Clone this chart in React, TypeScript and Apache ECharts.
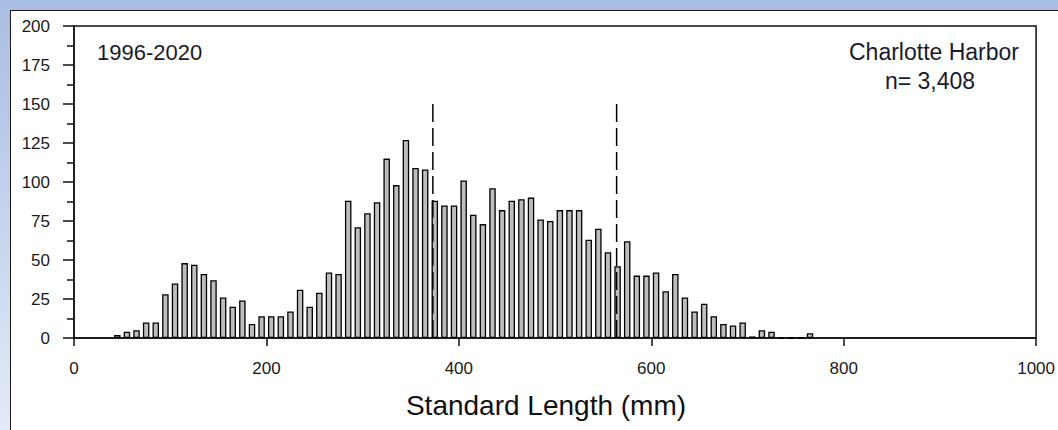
import React, { useEffect, useRef } from "react";
import * as echarts from "echarts";

const binStarts = [
  40, 50, 60, 70, 80, 90, 100, 110, 120, 130, 140, 150, 160, 170, 180, 190,
  200, 210, 220, 230, 240, 250, 260, 270, 280, 290, 300, 310, 320, 330, 340,
  350, 360, 370, 380, 390, 400, 410, 420, 430, 440, 450, 460, 470, 480, 490,
  500, 510, 520, 530, 540, 550, 560, 570, 580, 590, 600, 610, 620, 630, 640,
  650, 660, 670, 680, 690, 700, 710, 720, 730, 740, 750, 760,
];
const counts = [
  2, 4, 5, 10, 10, 28, 35, 48, 47, 41, 37, 26, 20, 24, 9, 14,
  14, 14, 17, 31, 20, 29, 42, 41, 88, 71, 80, 87, 115, 98, 127,
  109, 108, 88, 85, 85, 101, 79, 73, 96, 82, 88, 89, 90, 76, 75,
  82, 82, 82, 63, 70, 55, 46, 62, 40, 40, 42, 30, 41, 26, 17,
  22, 14, 9, 8, 10, 1, 5, 4, 0, 0, 0, 3,
];
const binWidth = 10;
const yTicks = [0, 25, 50, 75, 100, 125, 150, 175, 200];
const xTicks = [0, 200, 400, 600, 800, 1000];
const dashedAt = [373, 564];
const dashedTop = 150;
const periodLabel = "1996-2020";
const siteLabel = "Charlotte Harbor";
const nLabel = "n= 3,408";
const axisTitle = "Standard Length (mm)";

const FONT = "'Liberation Sans', Arial, sans-serif";

export default function App() {
  const ref = useRef<HTMLDivElement>(null);
  useEffect(() => {
    if (!ref.current) return;
    const chart = echarts.init(ref.current, undefined, { renderer: "svg", width: 1058, height: 430 });
    const barData = binStarts.map((b, i) => [b + binWidth / 2, counts[i]]);
    const dashSeries = dashedAt.map((x) => ({
      type: "line",
      data: [
        [x, 0],
        [x, dashedTop],
      ],
      symbol: "none",
      lineStyle: { color: "#000", width: 1.5, type: [18, 6] },
      z: 5,
      silent: true,
    }));
    chart.setOption({
      animation: false,
      grid: {
        left: 74,
        top: 26,
        width: 967,
        height: 312,
        show: true,
        borderColor: "#111",
        borderWidth: 1.5,
        backgroundColor: "transparent",
      },
      xAxis: {
        type: "value",
        min: xTicks[0],
        max: xTicks[xTicks.length - 1],
        interval: 200,
        axisLine: { show: true, onZero: false, lineStyle: { color: "#111", width: 1.5 } },
        axisTick: { show: true, length: 8, lineStyle: { color: "#111", width: 1.5 } },
        axisLabel: {
          color: "#1a1a1a",
          fontFamily: FONT,
          fontSize: 17,
          margin: 22,
          showMaxLabel: true,
          showMinLabel: true,
          formatter: (v: number) => String(v),
        },
        splitLine: { show: false },
      },
      yAxis: {
        type: "value",
        min: yTicks[0],
        max: yTicks[yTicks.length - 1],
        interval: 25,
        axisLine: { show: true, lineStyle: { color: "#111", width: 1.5 } },
        axisTick: { show: true, length: 11, lineStyle: { color: "#111", width: 1.5 } },
        minorTick: { show: true, splitNumber: 2, length: 7, lineStyle: { color: "#111", width: 1.5 } },
        axisLabel: { color: "#1a1a1a", fontFamily: FONT, fontSize: 17, margin: 24 },
        splitLine: { show: false },
      },
      series: [
        {
          type: "bar",
          data: barData,
          barWidth: 6.5,
          itemStyle: { color: "#bdbdbd", borderColor: "#000", borderWidth: 1.3 },
          z: 2,
        },
        ...dashSeries,
      ],
      graphic: [
        {
          type: "text",
          x: 97,
          y: 52,
          style: {
            text: periodLabel,
            font: `22px ${FONT}`,
            fill: "#1a1a2a",
            textAlign: "left",
            textVerticalAlign: "middle",
          },
        },
        {
          type: "text",
          x: 934,
          y: 52,
          style: {
            text: siteLabel,
            font: `23px ${FONT}`,
            fill: "#1a1a2a",
            textAlign: "center",
            textVerticalAlign: "middle",
          },
        },
        {
          type: "text",
          x: 930,
          y: 81,
          style: {
            text: nLabel,
            font: `23px ${FONT}`,
            fill: "#1a1a2a",
            textAlign: "center",
            textVerticalAlign: "middle",
          },
        },
        {
          type: "text",
          x: 546,
          y: 405,
          style: {
            text: axisTitle,
            font: `28px ${FONT}`,
            fill: "#111",
            textAlign: "center",
            textVerticalAlign: "middle",
          },
        },
      ],
    });
    return () => chart.dispose();
  }, []);

  return (
    <div
      style={{
        position: "fixed",
        left: 0,
        top: 0,
        width: 1058,
        height: 430,
        overflow: "hidden",
        background: "linear-gradient(to bottom, #a9bde2 0%, #c4d3ee 50%, #e4ebf7 100%)",
      }}
    >
      <div
        style={{
          position: "absolute",
          left: 10,
          top: 10,
          width: 1080,
          height: 460,
          background: "#fff",
          border: "1.5px solid #1a1a1a",
        }}
      />
      <div ref={ref} style={{ position: "absolute", left: 0, top: 0, width: 1058, height: 430 }} />
    </div>
  );
}
